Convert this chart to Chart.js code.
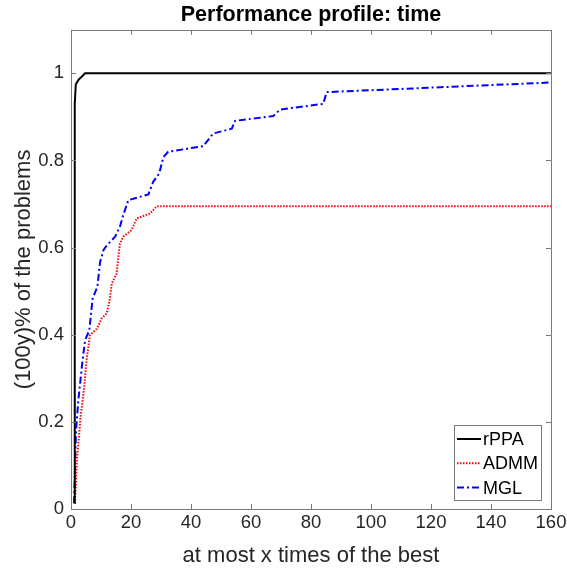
<!DOCTYPE html>
<html>
<head>
<meta charset="utf-8">
<script src="https://cdn.jsdelivr.net/npm/chart.js@4"></script>
<style>
  html, body { margin: 0; padding: 0; background: #fff; }
  #wrap { width: 567px; height: 571px; }
</style>
</head>
<body>
<div id="wrap"><canvas id="perfChart" width="567" height="571"></canvas></div>
<script>
// Performance profile: fraction of problems solved within x times of the best

const rppaX = [1.15, 1.2, 1.3, 1.6, 2.5, 4.7, 160];
const rppaY = [0.014, 0.5, 0.93, 0.975, 0.985, 1.0, 1.0];

const admmX = [1.3, 1.9, 3.2, 4.3, 5.2, 6.3, 8.6, 10.2, 11.9, 12.8, 13.6, 15.2, 15.8, 16.3, 17.4, 20.2, 21.9, 26.3, 28.6, 160];
const admmY = [0.013, 0.105, 0.212, 0.273, 0.342, 0.399, 0.414, 0.437, 0.449, 0.476, 0.518, 0.54, 0.58, 0.609, 0.625, 0.64, 0.667, 0.678, 0.695, 0.695];

const mglX = [1, 1.67, 2.4, 3.6, 4.7, 6.1, 7.2, 8.8, 9.7, 10.8, 11.9, 14.7, 16.3, 17.4, 19.1, 25.8, 27.4, 29.4, 30.8, 32.4, 44.1, 47.4, 53.6, 54.7, 67.4, 69.7, 84.1, 85.2, 160];
const mglY = [0.013, 0.18, 0.246, 0.326, 0.388, 0.41, 0.483, 0.51, 0.567, 0.594, 0.605, 0.625, 0.648, 0.674, 0.709, 0.722, 0.751, 0.77, 0.808, 0.82, 0.833, 0.862, 0.873, 0.891, 0.902, 0.917, 0.93, 0.957, 0.979];

const seriesNames = ['rPPA', 'ADMM', 'MGL'];
const xTicks = [0, 20, 40, 60, 80, 100, 120, 140, 160];
const yTicks = [0, 0.2, 0.4, 0.6, 0.8, 1];

const FONT = "'Liberation Sans', Arial, Helvetica, sans-serif";
const AXIS_COLOR = '#262626';
const BOX_COLOR = '#7a7a7a';

function toPoints(xs, ys) {
  return xs.map((x, i) => ({ x: x, y: ys[i] }));
}

// MATLAB-style box with inward ticks on all four sides
const boxTicksPlugin = {
  id: 'boxTicks',
  afterDatasetsDraw(chart) {
    const { ctx, chartArea: a, scales } = chart;
    const len = 5;
    ctx.save();
    ctx.strokeStyle = BOX_COLOR;
    ctx.lineWidth = 1;
    ctx.beginPath();
    scales.x.ticks.forEach(t => {
      const px = Math.round(scales.x.getPixelForValue(t.value)) + 0.5;
      ctx.moveTo(px, a.bottom); ctx.lineTo(px, a.bottom - len);
      ctx.moveTo(px, a.top); ctx.lineTo(px, a.top + len);
    });
    scales.y.ticks.forEach(t => {
      const py = Math.round(scales.y.getPixelForValue(t.value)) + 0.5;
      ctx.moveTo(a.left, py); ctx.lineTo(a.left + len, py);
      ctx.moveTo(a.right, py); ctx.lineTo(a.right - len, py);
    });
    ctx.stroke();
    ctx.strokeRect(Math.round(a.left) + 0.5, Math.round(a.top) + 0.5,
      Math.round(a.right - a.left), Math.round(a.bottom - a.top));
    ctx.restore();
  }
};

// legend drawn inside the plot area, bottom right
const insideLegendPlugin = {
  id: 'insideLegend',
  afterDraw(chart) {
    const { ctx, chartArea: a } = chart;
    const w = 87, h = 75;
    const right = Math.round(a.right) - 10;
    const bottom = Math.round(a.bottom) - 9;
    const left = right - w, top = bottom - h;
    ctx.save();
    ctx.fillStyle = '#fff';
    ctx.fillRect(left, top, w, h);
    ctx.strokeStyle = BOX_COLOR;
    ctx.lineWidth = 1;
    ctx.strokeRect(left + 0.5, top + 0.5, w, h);
    ctx.font = '18px ' + FONT;
    ctx.textBaseline = 'middle';
    ctx.textAlign = 'left';
    chart.data.datasets.forEach((ds, i) => {
      const yy = top + 14 + i * 24.3;
      ctx.beginPath();
      ctx.strokeStyle = ds.borderColor;
      ctx.lineWidth = ds.borderWidth;
      ctx.setLineDash(ds.borderDash || []);
      ctx.moveTo(left + 3, yy);
      ctx.lineTo(left + 27, yy);
      ctx.stroke();
      ctx.setLineDash([]);
      ctx.fillStyle = '#000';
      ctx.fillText(ds.label, left + 29, yy + 1);
    });
    ctx.restore();
  }
};

const canvas = document.getElementById('perfChart');

new Chart(canvas, {
  type: 'scatter',
  data: {
    datasets: [
      {
        label: seriesNames[0],
        data: toPoints(rppaX, rppaY),
        borderColor: '#000000',
        backgroundColor: '#000000',
        borderWidth: 2,
        showLine: true,
        pointRadius: 0,
        tension: 0
      },
      {
        label: seriesNames[1],
        data: toPoints(admmX, admmY),
        borderColor: '#ff0000',
        backgroundColor: '#ff0000',
        borderWidth: 2,
        borderDash: [1.5, 1.5],
        showLine: true,
        pointRadius: 0,
        tension: 0
      },
      {
        label: seriesNames[2],
        data: toPoints(mglX, mglY),
        borderColor: '#0000ff',
        backgroundColor: '#0000ff',
        borderWidth: 2,
        borderDash: [7, 3, 2, 3],
        showLine: true,
        pointRadius: 0,
        tension: 0
      }
    ]
  },
  options: {
    responsive: false,
    animation: false,
    layout: { padding: { left: 0, right: 16, top: 0, bottom: 0 } },
    plugins: {
      legend: { display: false },
      tooltip: { enabled: false },
      title: {
        display: true,
        fullSize: false,
        text: 'Performance profile: time',
        color: '#000',
        font: { family: FONT, size: 21.5, weight: 'bold', lineHeight: 1.2 },
        padding: { top: 2, bottom: 2 }
      }
    },
    scales: {
      x: {
        type: 'linear',
        min: 0,
        max: 160,
        afterBuildTicks: scale => { scale.ticks = xTicks.map(v => ({ value: v })); },
        afterFit: scale => {
          scale.height = 62;
          scale.paddingLeft = 0;
          scale.paddingRight = 0;
        },
        grid: { display: false, drawTicks: false, tickLength: 0 },
        border: { display: false },
        ticks: {
          color: AXIS_COLOR,
          padding: 3,
          maxRotation: 0,
          font: { family: FONT, size: 18.5 },
          callback: v => String(v)
        },
        title: {
          display: true,
          text: 'at most x times of the best',
          color: AXIS_COLOR,
          font: { family: FONT, size: 22, lineHeight: 1.2 },
          padding: { top: 0, bottom: 2 }
        }
      },
      y: {
        type: 'linear',
        min: 0,
        max: 1.1,
        afterBuildTicks: scale => { scale.ticks = yTicks.map(v => ({ value: v })); },
        afterFit: scale => {
          scale.width = 71;
          scale.paddingTop = 0;
          scale.paddingBottom = 0;
        },
        grid: { display: false, drawTicks: false, tickLength: 0 },
        border: { display: false },
        ticks: {
          color: AXIS_COLOR,
          padding: 7,
          font: { family: FONT, size: 18.5 },
          callback: v => String(v)
        },
        title: {
          display: true,
          text: '(100y)% of the problems',
          color: AXIS_COLOR,
          font: { family: FONT, size: 22, lineHeight: 1.2 },
          padding: { top: 11, bottom: 0 }
        }
      }
    }
  },
  plugins: [boxTicksPlugin, insideLegendPlugin]
});
</script>
</body>
</html>
